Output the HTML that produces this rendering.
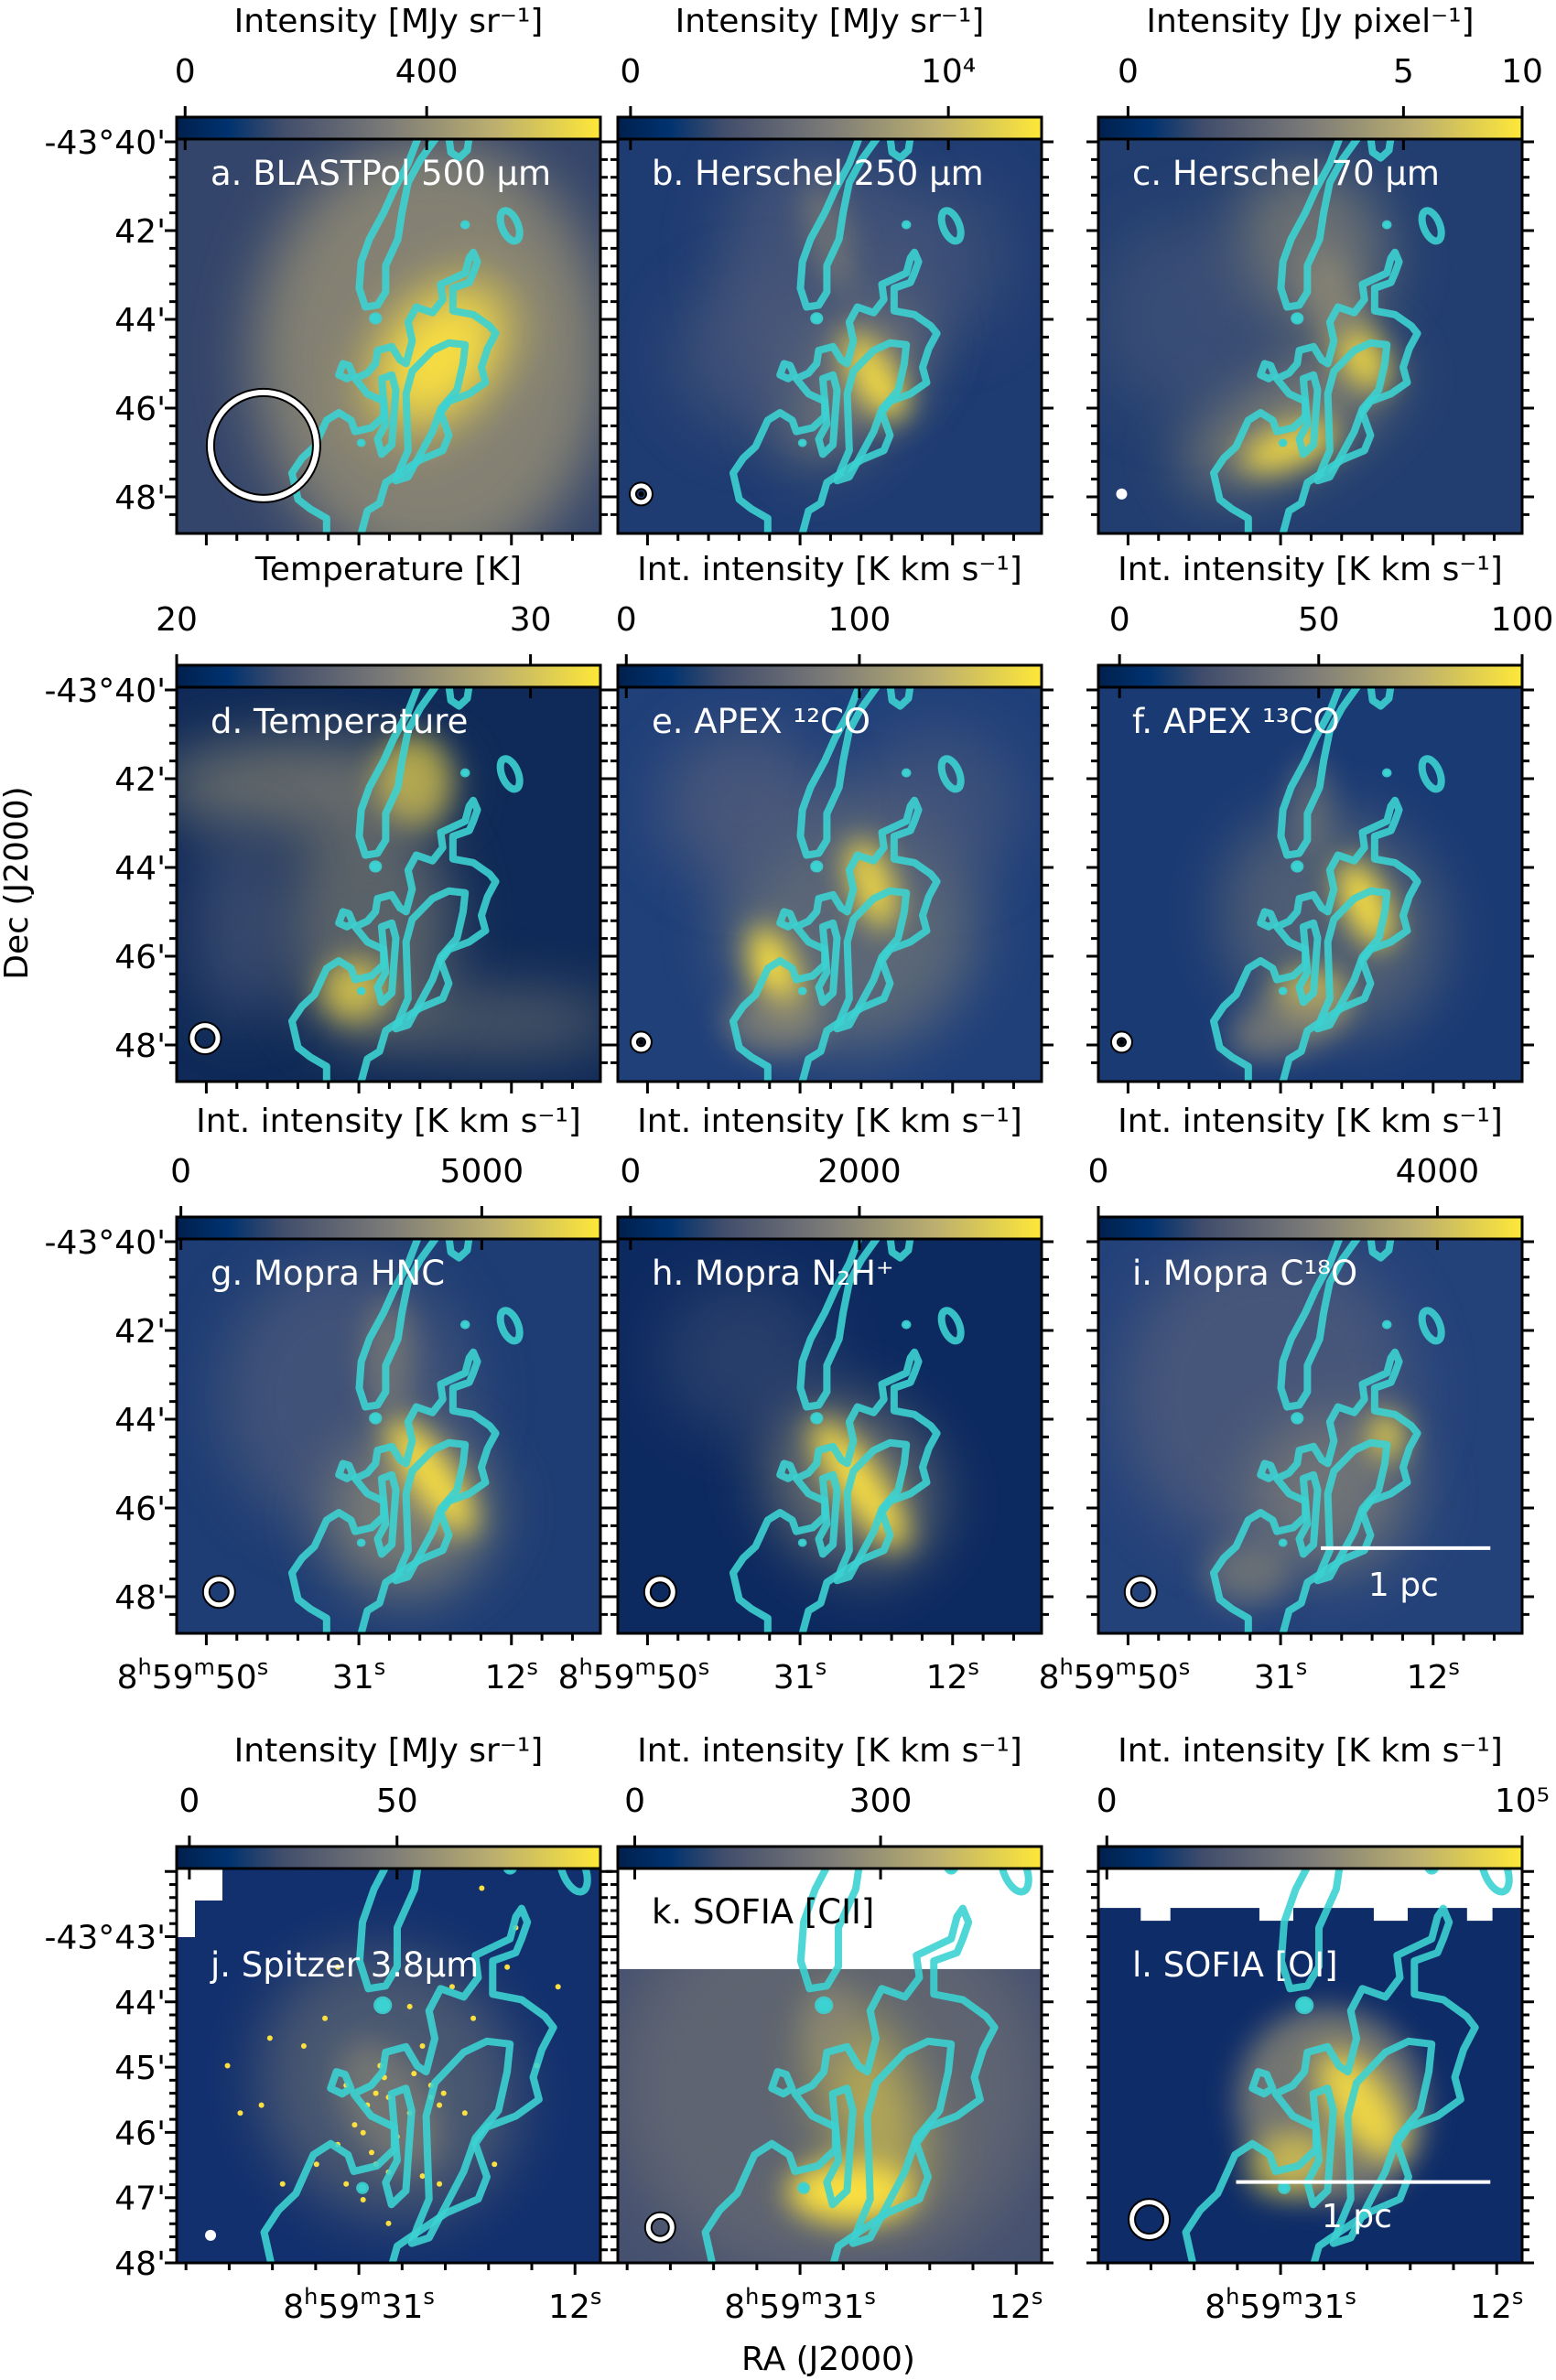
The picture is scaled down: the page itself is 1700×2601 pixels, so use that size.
<!DOCTYPE html>
<html><head><meta charset="utf-8"><title>Vela C multi-tracer maps</title>
<style>
html,body{margin:0;padding:0;background:#fff;}
svg{display:block;font-family:"DejaVu Sans","Liberation Sans",sans-serif;}
</style></head>
<body>
<svg id="fig" width="1700" height="2601" viewBox="0 0 1700 2601" xmlns="http://www.w3.org/2000/svg">
<defs>
<linearGradient id="cividis" x1="0" x2="1" y1="0" y2="0">
<stop offset="0" stop-color="#00204d"/><stop offset="0.12" stop-color="#00326f"/>
<stop offset="0.25" stop-color="#414d6b"/><stop offset="0.5" stop-color="#7c7b78"/>
<stop offset="0.75" stop-color="#bcaf6f"/><stop offset="1" stop-color="#fee838"/>
</linearGradient>
<filter id="bigblur" filterUnits="userSpaceOnUse" x="0" y="0" width="1700" height="2601"><feGaussianBlur stdDeviation="32"/></filter>
<filter id="midblur" filterUnits="userSpaceOnUse" x="0" y="0" width="1700" height="2601"><feGaussianBlur stdDeviation="16"/></filter>
</defs>
<text x="0" y="0" font-size="36" text-anchor="middle" transform="translate(30,965) rotate(-90)">Dec (J2000)</text>
<text x="905" y="2590" font-size="36" text-anchor="middle">RA (J2000)</text>
</svg>
<script>
// ---- data ----
const panelIds = ['a','b','c','d','e','f','g','h','i','j','k','l'];
const panelLabels = ['a. BLASTPol 500 μm','b. Herschel 250 μm','c. Herschel 70 μm','d. Temperature','e. APEX ¹²CO','f. APEX ¹³CO','g. Mopra HNC','h. Mopra N₂H⁺','i. Mopra C¹⁸O','j. Spitzer 3.8μm','k. SOFIA [CII]','l. SOFIA [OI]'];
const cbarTitles = ['Intensity [MJy sr⁻¹]','Intensity [MJy sr⁻¹]','Intensity [Jy pixel⁻¹]','Temperature [K]','Int. intensity [K km s⁻¹]','Int. intensity [K km s⁻¹]','Int. intensity [K km s⁻¹]','Int. intensity [K km s⁻¹]','Int. intensity [K km s⁻¹]','Intensity [MJy sr⁻¹]','Int. intensity [K km s⁻¹]','Int. intensity [K km s⁻¹]'];
const cbarTickLabels = [['0','400'],['0','10⁴'],['0','5','10'],['20','30'],['0','100'],['0','50','100'],['0','5000'],['0','2000'],['0','4000'],['0','50'],['0','300'],['0','10⁵']];
const cbarTickFrac = [[0.02,0.59],[0.03,0.78],[0.07,0.72,1.0],[0.0,0.835],[0.02,0.57],[0.05,0.52,1.0],[0.01,0.72],[0.03,0.57],[0.0,0.8],[0.03,0.52],[0.04,0.62],[0.02,1.0]];
const decLabels = ['-43°40\'','42\'','44\'','46\'','48\''];
const decLabelsRow4 = ['-43°43\'','44\'','45\'','46\'','47\'','48\''];
const raLabels = ['8h59m50s','31s','12s'];
const raLabelsRow4 = ['8h59m31s','12s'];

const colX=[193,675,1200], rowY=[152,751,1354,2042], PW=463, PH=431;
const fig=document.getElementById('fig');
const C={Y:'#fbe040',G:'#8d8874',L:'#4f5b7a',D:'#081d48',B:'#12357a'};
const blobs={
a:[[0.6,0.55,0.42,0.55,0,'G',0.9,'bigblur'],[0.62,0.55,0.2,0.12,-50,'Y',1,'bigblur'],[0.62,0.55,0.12,0.07,-50,'Y',1,'bigblur']],
b:[[0.5,0.35,0.25,0.35,-15,'L',0.7,'bigblur'],[0.55,0.62,0.22,0.12,-50,'G',0.8,'bigblur'],[0.5,0.25,0.05,0.15,-15,'G',0.6,'midblur'],[0.6,0.6,0.05,0.13,-35,'Y',1,'midblur'],[0.33,0.55,0.2,0.2,0,'L',0.6,'bigblur'],[0.78,0.3,0.15,0.2,0,'L',0.5,'bigblur']],
c:[[0.5,0.28,0.18,0.22,-20,'G',0.7,'bigblur'],[0.45,0.7,0.28,0.13,-30,'G',0.8,'bigblur'],[0.45,0.78,0.12,0.05,-20,'Y',0.9,'midblur'],[0.62,0.55,0.05,0.1,-30,'Y',0.9,'midblur'],[0.55,0.4,0.06,0.12,-20,'G',0.8,'midblur'],[0.2,0.45,0.2,0.25,0,'L',0.5,'bigblur']],
d:[[0.3,0.25,0.35,0.12,0,'G',0.7,'bigblur'],[0.56,0.24,0.09,0.12,0,'Y',0.6,'midblur'],[0.45,0.6,0.2,0.3,0,'G',0.6,'bigblur'],[0.42,0.77,0.08,0.08,0,'Y',0.7,'midblur'],[0.75,0.85,0.3,0.08,0,'G',0.5,'bigblur'],[0.15,0.6,0.12,0.25,0,'L',0.6,'bigblur']],
e:[[0.55,0.6,0.3,0.32,-40,'G',0.55,'bigblur'],[0.3,0.3,0.2,0.2,0,'L',0.8,'bigblur'],[0.75,0.3,0.2,0.2,0,'L',0.6,'bigblur'],[0.37,0.72,0.05,0.12,-20,'Y',1,'midblur'],[0.6,0.5,0.05,0.12,-20,'Y',0.9,'midblur'],[0.37,0.85,0.12,0.08,0,'G',0.7,'midblur']],
f:[[0.55,0.6,0.25,0.3,-40,'G',0.45,'bigblur'],[0.63,0.55,0.05,0.12,-25,'Y',1,'midblur'],[0.5,0.78,0.08,0.06,0,'Y',0.8,'midblur'],[0.45,0.85,0.15,0.08,-20,'G',0.7,'midblur'],[0.5,0.3,0.05,0.12,0,'G',0.5,'midblur']],
g:[[0.4,0.4,0.3,0.35,0,'L',0.7,'bigblur'],[0.55,0.7,0.2,0.2,-40,'G',0.8,'bigblur'],[0.6,0.6,0.05,0.18,-35,'Y',1,'midblur'],[0.5,0.3,0.06,0.15,0,'G',0.6,'midblur']],
h:[[0.55,0.62,0.18,0.24,-40,'G',0.7,'bigblur'],[0.57,0.62,0.05,0.2,-35,'Y',1,'midblur'],[0.3,0.3,0.2,0.2,0,'L',0.4,'bigblur']],
i:[[0.4,0.4,0.35,0.4,0,'L',0.8,'bigblur'],[0.55,0.65,0.2,0.2,-40,'G',0.6,'bigblur'],[0.68,0.5,0.04,0.06,0,'Y',0.9,'midblur'],[0.35,0.85,0.1,0.08,0,'G',0.6,'midblur']],
j:[[0.5,0.55,0.3,0.35,-30,'G',0.45,'bigblur'],[0.5,0.6,0.1,0.18,-30,'G',0.6,'midblur']],
k:[[0.5,0.55,0.5,0.5,0,'G',0.35,'bigblur'],[0.55,0.82,0.15,0.08,0,'Y',1,'midblur'],[0.6,0.6,0.1,0.25,-20,'Y',0.6,'bigblur'],[0.5,0.4,0.06,0.12,0,'G',0.7,'midblur']],
l:[[0.55,0.6,0.22,0.25,-30,'G',0.8,'midblur'],[0.62,0.6,0.07,0.16,-35,'Y',0.9,'midblur'],[0.45,0.75,0.1,0.08,-20,'Y',0.6,'midblur']]
};
const bases={a:'#34456b',b:'#1f3c72',c:'#223e70',d:'#0f2a58',e:'#20407a',f:'#1a3a74',g:'#1e3d74',h:'#0d2a60',i:'#24427a',j:'#12306e',k:'#465170',l:'#0e2c68'};
const stars=[[0.4,0.55],[0.45,0.6],[0.42,0.65],[0.5,0.58],[0.55,0.62],[0.6,0.55],[0.62,0.6],[0.38,0.7],[0.46,0.72],[0.52,0.68],[0.3,0.45],[0.35,0.38],[0.55,0.35],[0.7,0.38],[0.65,0.3],[0.8,0.15],[0.72,0.05],[0.2,0.6],[0.15,0.62],[0.58,0.78],[0.62,0.8],[0.44,0.84],[0.5,0.9],[0.25,0.8],[0.85,0.5],[0.33,0.75],[0.48,0.5],[0.58,0.45],[0.68,0.62],[0.4,0.8],[0.47,0.57],[0.49,0.53],[0.6,0.58],[0.63,0.57],[0.44,0.67],[0.47,0.75],[0.5,0.77],[0.22,0.43],[0.12,0.5],[0.78,0.25],[0.9,0.3],[0.38,0.25],[0.75,0.75],[0.56,0.52]];
const beams={a:[0.205,0.777,58,'ring'],b:[0.055,0.9,9,'dot'],c:[0.055,0.9,6,'fill'],d:[0.067,0.89,14,'ring'],e:[0.055,0.9,8,'dot'],f:[0.055,0.9,8,'dot'],g:[0.1,0.895,14,'ring'],h:[0.1,0.895,14,'ring'],i:[0.1,0.895,14,'ring'],j:[0.08,0.93,6,'fill'],k:[0.1,0.91,13,'ring'],l:[0.12,0.89,19,'ring']};

const contourPaths=[
"M1025,360 L1000,430 L965,500 L940,560 L905,630 L885,690 L880,760 L895,810 L925,805 L945,770 L945,700 L975,630 L985,560 L1000,480 L1030,420 L1070,360",
"M1100,360 L1105,400 L1125,415 L1145,395 L1150,360",
"M800,1410 L800,1370 L760,1345 L730,1320 L715,1250 L740,1210 L770,1180 L800,1110 L830,1090 L860,1110 L870,1140 L910,1130 L940,1100 L940,1060 L900,1040 L870,1000 L900,985 L920,960 L925,925 L960,915 L980,950 L995,960 L1010,900 L1000,850 L1020,810 L1060,825 L1085,790 L1080,750 L1110,735 L1140,720 L1150,680 L1160,665 L1170,690 L1160,720 L1150,745 L1110,760 L1110,820 L1160,830 L1200,860 L1215,880 L1195,920 L1180,970 L1190,1010 L1150,1040 L1100,1060 L1080,1090 L1100,1150 L1085,1190 L1030,1215 L980,1250 L945,1275 L930,1330 L900,1350 L885,1410",
"M840,960 L830,990 L850,1000 L865,990 L855,965 Z",
"M960,990 L935,1000 L940,1060 L945,1120 L925,1160 L935,1200 L960,1175 L965,1100 L970,1030 Z",
"M1000,1190 L980,1240 L970,1270 L1000,1260 L1030,1200 L1060,1140 L1080,1080 L1120,1030 L1135,960 L1140,910 L1100,905 L1060,925 L1010,980 L995,1040 Z"];

function fmtRA(s){
  const parts=s.match(/\d+[hms]/g); let h=''; let first=true;
  parts.forEach(p=>{const num=p.slice(0,-1), u=p.slice(-1);
    h+= first ? num : `<tspan dy="15">${num}</tspan>`;
    h+=`<tspan font-size="24" dy="-15">${u}</tspan>`; first=false;});
  return h;
}
let out='';
panelIds.forEach((id,k)=>{
  const r=Math.floor(k/3), c=k%3, x0=colX[c], y0=rowY[r], row4=(r===3);
  out+=`<g>`;
  out+=`<clipPath id="clip-${id}"><rect x="${x0}" y="${y0}" width="${PW}" height="${PH}"/></clipPath>`;
  out+=`<g clip-path="url(#clip-${id})">`;
  out+=`<rect x="${x0}" y="${y0}" width="${PW}" height="${PH}" fill="${bases[id]}"/>`;
  blobs[id].forEach(b=>{
    const cx=x0+b[0]*PW, cy=y0+b[1]*PH;
    out+=`<ellipse cx="${cx}" cy="${cy}" rx="${b[2]*PW}" ry="${b[3]*PH}" transform="rotate(${b[4]} ${cx} ${cy})" fill="${C[b[5]]}" opacity="${b[6]}" filter="url(#${b[7]})"/>`;
  });
  if(id==='j'){stars.forEach(s=>{out+=`<circle cx="${x0+s[0]*PW}" cy="${y0+s[1]*PH}" r="3" fill="#fbe040"/>`;});
    out+=`<path d="M${x0},${y0} h50 v35 h-30 v40 h-20 Z" fill="#fff"/>`;}
  if(id==='k'){out+=`<rect x="${x0}" y="${y0}" width="${PW}" height="${0.255*PH}" fill="#fff"/>`;}
  if(id==='l'){out+=`<rect x="${x0}" y="${y0}" width="${PW}" height="${0.1*PH}" fill="#fff"/>`;
    [[0.1,0.07],[0.38,0.08],[0.65,0.08],[0.87,0.06]].forEach(n=>{out+=`<rect x="${x0+n[0]*PW}" y="${y0+0.1*PH-1}" width="${n[1]*PW}" height="15" fill="#fff"/>`;});}
  let tr;
  if(!row4){tr=`translate(${x0},${y0}) scale(${PW/1040},${PH/1045}) translate(-432,-365)`;}
  else{tr=`translate(${x0-0.18*PW},${y0-0.32*PH}) scale(${PW*1.42/1040},${PH*1.467/1045}) translate(-432,-365)`;}
  out+=`<g transform="${tr}" fill="none" stroke="#3cd2d2" stroke-opacity="0.9" stroke-width="8" stroke-linejoin="round">`;
  contourPaths.forEach(p=>{out+=`<path d="${p}" vector-effect="non-scaling-stroke"/>`;});
  out+=`<ellipse cx="1250" cy="595" rx="20" ry="42" transform="rotate(-20 1250 595)" vector-effect="non-scaling-stroke"/>`;
  out+=`<circle cx="1140" cy="592" r="8" fill="#3cd2d2"/><circle cx="920" cy="840" r="12" fill="#3cd2d2"/><circle cx="885" cy="1170" r="7" fill="#3cd2d2"/>`;
  out+=`</g>`;
  const bm=beams[id], bx=x0+bm[0]*PW, by=y0+bm[1]*PH;
  if(bm[3]==='fill') out+=`<circle cx="${bx}" cy="${by}" r="${bm[2]}" fill="#fff"/>`;
  else if(bm[3]==='dot') out+=`<g><circle cx="${bx}" cy="${by}" r="${bm[2]}" fill="none" stroke="#000" stroke-width="9"/><circle cx="${bx}" cy="${by}" r="${bm[2]}" fill="none" stroke="#fff" stroke-width="5"/><circle cx="${bx}" cy="${by}" r="3" fill="#000"/></g>`;
  else out+=`<g><circle cx="${bx}" cy="${by}" r="${bm[2]}" fill="none" stroke="#000" stroke-width="${bm[2]>30?10:9}"/><circle cx="${bx}" cy="${by}" r="${bm[2]}" fill="none" stroke="#fff" stroke-width="${bm[2]>30?6:5}"/></g>`;
  if(id==='i'){out+=`<line x1="${x0+0.525*PW}" x2="${x0+0.925*PW}" y1="${y0+0.784*PH}" y2="${y0+0.784*PH}" stroke="#fff" stroke-width="4"/><text x="${x0+0.72*PW}" y="${y0+0.905*PH}" font-size="36" fill="#fff" text-anchor="middle">1 pc</text>`;}
  if(id==='l'){out+=`<line x1="${x0+0.325*PW}" x2="${x0+0.925*PW}" y1="${y0+0.795*PH}" y2="${y0+0.795*PH}" stroke="#fff" stroke-width="4"/><text x="${x0+0.61*PW}" y="${y0+0.91*PH}" font-size="36" fill="#fff" text-anchor="middle">1 pc</text>`;}
  const ly = row4 ? (id==='k'? y0+60 : y0+118) : y0+50;
  out+=`<text x="${x0+37}" y="${ly}" font-size="37" fill="${id==='k'?'#000':'#fff'}">${panelLabels[k]}</text>`;
  out+=`</g>`;
  out+=`<rect x="${x0}" y="${y0}" width="${PW}" height="${PH}" fill="none" stroke="#000" stroke-width="3"/>`;
  let t='';
  if(!row4){
    for(let m=-1;m<22;m++){const y=y0+3+m*19.4; if(y<y0||y>y0+PH)continue; const L=(m%5===0)?13:8;
      t+=`M${x0},${y} h-${L} M${x0+PW},${y} h${L} `;}
    if(c===0) decLabels.forEach((s,n)=>{out+=`<text x="${x0-12}" y="${y0+3+n*97+13}" font-size="36" text-anchor="end">${s}</text>`;});
    for(let m=-1;m<14;m++){const u=0.07+m*0.072; if(u<0||u>1)continue; const xx=x0+u*PW; const L=(m%5===0)?13:8; t+=`M${xx},${y0+PH} v${L} `;}
    if(r===2){[0.07,0.43,0.79].forEach((u,n)=>{out+=`<text x="${x0+u*PW+(n===0?-15:0)}" y="${y0+PH+60}" font-size="36" text-anchor="middle">${fmtRA(raLabels[n])}</text>`;});}
  } else {
    for(let m=-2;m<32;m++){const y=y0+PH-m*14.26; if(y<y0||y>y0+PH)continue; const L=(m%5===0)?13:8;
      t+=`M${x0},${y} h-${L} M${x0+PW},${y} h${L} `;}
    if(c===0) decLabelsRow4.forEach((s,n)=>{out+=`<text x="${x0-12}" y="${y0+PH-(5-n)*71.3+13}" font-size="36" text-anchor="end">${s}</text>`;});
    for(let m=-5;m<8;m++){const u=0.43+m*0.102; if(u<0||u>1)continue; const xx=x0+u*PW; const L=(m%5===0)?13:8; t+=`M${xx},${y0+PH} v${L} `;}
    [0.43,0.94].forEach((u,n)=>{out+=`<text x="${x0+u*PW}" y="${y0+PH+60}" font-size="36" text-anchor="middle">${fmtRA(raLabelsRow4[n])}</text>`;});
  }
  out+=`<path d="${t}" stroke="#000" stroke-width="3"/>`;
  const cbY=y0-24;
  out+=`<g><rect x="${x0}" y="${cbY}" width="${PW}" height="24" fill="url(#cividis)" stroke="#000" stroke-width="3"/>`;
  cbarTickFrac[k].forEach((f,n)=>{const xx=x0+f*PW; out+=`<line x1="${xx}" x2="${xx}" y1="${cbY-12}" y2="${cbY}" stroke="#000" stroke-width="3"/><line x1="${xx}" x2="${xx}" y1="${y0}" y2="${y0+12}" stroke="#000" stroke-width="3"/><text x="${xx}" y="${cbY-38}" font-size="36" text-anchor="middle">${cbarTickLabels[k][n]}</text>`;});
  out+=`<text x="${x0+PW/2}" y="${cbY-93}" font-size="36" text-anchor="middle">${cbarTitles[k]}</text></g>`;
});
fig.insertAdjacentHTML('beforeend',out);
</script>
</body></html>
